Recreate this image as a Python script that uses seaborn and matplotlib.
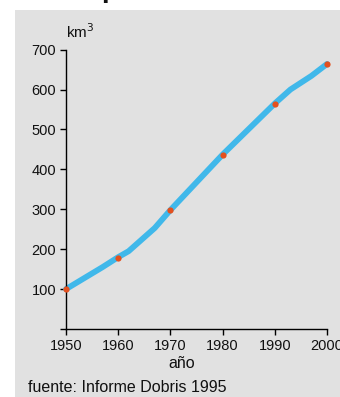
import numpy                as np
import pandas               as pd
import seaborn              as sns
import matplotlib.pyplot    as plt
from matplotlib.patches import Rectangle

# ============================================================ DATA ============================================================

line_years  = [1950, 1957, 1960, 1962, 1967, 1970, 1980, 1990, 1993, 1997, 2000]
line_values = [100, 155, 180, 195, 253, 298, 437, 565, 600, 634, 664]

dot_years   = [1950, 1960, 1970, 1980, 1990, 2000]
dot_values  = [100, 178, 297, 436, 564, 663]

y_ticks     = [0, 100, 200, 300, 400, 500, 600, 700]
y_labels    = ["", "100", "200", "300", "400", "500", "600", "700"]
x_ticks     = [1950, 1960, 1970, 1980, 1990, 2000]

BG      = "#e1e1e1"
BLUE    = "#40b8ea"
RED     = "#e4501e"
INK     = "#111111"

# ============================================================ PLOT ============================================================

sns.set_theme(style="ticks")
plt.rcParams['font.family'] = ['Liberation Sans', 'DejaVu Sans']

W, H = 340, 397
fig = plt.figure(figsize=(W / 100, H / 100), dpi=100, facecolor="white")
fig.patches.append(Rectangle((15 / W, 0), 1 - 15 / W, (H - 10) / H, transform=fig.transFigure,
                             facecolor=BG, edgecolor="none", zorder=-10))

ax = fig.add_axes([66 / W, 68 / H, (327 - 66) / W, (329 - 49.6) / H])
ax.set_zorder(1)
ax.set_facecolor(BG)

line_df = pd.DataFrame({"year": line_years, "value": line_values})
dot_df  = pd.DataFrame({"year": dot_years, "value": dot_values})

sns.lineplot(data=line_df, x="year", y="value", color=BLUE, linewidth=4.2, ax=ax, clip_on=False)
sns.scatterplot(data=dot_df, x="year", y="value", color=RED, s=20, linewidth=0, ax=ax, zorder=5, clip_on=False)

ax.set_xlim(1950, 2000)
ax.set_ylim(0, 700)
ax.set_xticks(x_ticks)
ax.set_yticks(y_ticks)
ax.set_yticklabels(y_labels)
ax.tick_params(axis="both", direction="out", length=4, width=1, color="black",
               labelsize=10.5, labelcolor=INK, pad=3)
for s in ["top", "right"]:
    ax.spines[s].set_visible(False)
for s in ["left", "bottom"]:
    ax.spines[s].set_color("black")
    ax.spines[s].set_linewidth(1)

ax.set_xlabel("")
ax.set_ylabel("")

fig.text(66 / W, 1 - 32 / H, "km$^3$", fontsize=11, color=INK, ha="left", va="center")
fig.text(182 / W, 1 - 363 / H, "año", fontsize=11.5, color=INK, ha="center", va="center")
fig.text(28 / W, 1 - 387 / H, "fuente: Informe Dobris 1995", fontsize=11.5, color=INK, ha="left", va="center")
fig.text(101 / W, 1 + 3 / H, "p", fontsize=20, fontweight="bold", color=INK, ha="left", va="baseline")

fig.savefig("out.png", dpi=100, facecolor="white")
